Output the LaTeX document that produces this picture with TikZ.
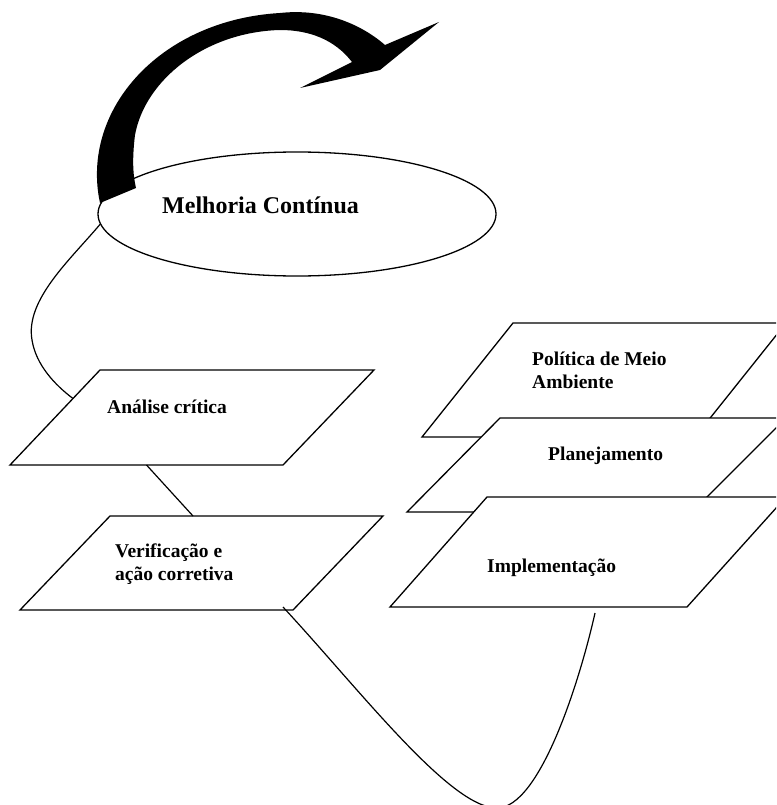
\documentclass[tikz,border=0pt]{standalone}
\usepackage{fontspec}
\setmainfont{Liberation Serif}
\usetikzlibrary{calc,shapes.geometric}
\begin{document}
\begin{tikzpicture}[x=1pt,y=-1pt,
  frame/.style={draw=black,line width=1.3pt,fill=white,line join=miter},
  link/.style={draw=black,line width=1.2pt},
  boxtext/.style={font=\bfseries\fontsize{19.5}{22.5}\selectfont,anchor=base west,inner sep=0pt,align=left},
  headtext/.style={font=\bfseries\fontsize{24}{28}\selectfont,anchor=base west,inner sep=0pt}]
\useasboundingbox (0,0) rectangle (776,805);
\clip (0,0) rectangle (776,805);

% central ellipse
\node[draw=black,line width=1.3pt,ellipse,minimum width=398pt,minimum height=124pt,inner sep=0pt] (ell) at (297,214) {};
\node[headtext] (mc) at (162,213) {Melhoria Contínua};

% big curved arrow
\fill[black] (100,203) .. controls (80,110) and (160,20) .. (280,13)
  .. controls (325,8) and (362,25) .. (385,45) -- (439,22) -- (380,70) -- (300,88) -- (352,62)
  .. controls (335,40) and (310,30) .. (280,30)
  .. controls (205,32) and (145,80) .. (135,135)
  .. controls (132,160) and (133,175) .. (136,188) -- cycle;

% corners of the plates
\coordinate (an-tl) at (100,370); \coordinate (an-tr) at (374,370);
\coordinate (an-br) at (283,465); \coordinate (an-bl) at (10,465);
\coordinate (ve-tl) at (110,516); \coordinate (ve-tr) at (383,516);
\coordinate (ve-br) at (293,610); \coordinate (ve-bl) at (20,610);
\coordinate (po-tl) at (513,323); \coordinate (po-tr) at (786,323);
\coordinate (po-br) at (695,437); \coordinate (po-bl) at (422,437);
\coordinate (pl-tl) at (500,418); \coordinate (pl-tr) at (786,418);
\coordinate (pl-br) at (692,512); \coordinate (pl-bl) at (407,512);
\coordinate (im-tl) at (487,497); \coordinate (im-tr) at (786,497);
\coordinate (im-br) at (687,607); \coordinate (im-bl) at (390,607);

\foreach \p in {an,ve,po,pl,im}
  \draw[frame] (\p-tl) -- (\p-tr) -- (\p-br) -- (\p-bl) -- cycle;

% labels (base anchor of a two-line label sits on its last line)
\node[boxtext] (an) at (107,413) {Análise crítica};
\node[boxtext] (ve) at (115,580) {Verificação e\\ação corretiva};
\node[boxtext] (po) at (532,388) {Política de Meio\\Ambiente};
\node[boxtext] (pl) at (548,460) {Planejamento};
\node[boxtext] (im) at (487,572) {Implementação};

% connectors
\draw[link] (ell.183) .. controls (70,260) and (25,300) .. (32,340)
  .. controls (36,365) and (55,385) .. ($(an-tl)!0.3!(an-bl)$);
\draw[link] ($(an-bl)!0.5!(an-br)$) -- ($(ve-tl)!0.304!(ve-tr)$);
\coordinate (loopA) at (283,607);
\coordinate (loopB) at (595,613);
\draw[link] (loopA) .. controls (360,690) and (450,808) .. (497,808)
  .. controls (540,808) and (580,680) .. (loopB);
\end{tikzpicture}
\end{document}
